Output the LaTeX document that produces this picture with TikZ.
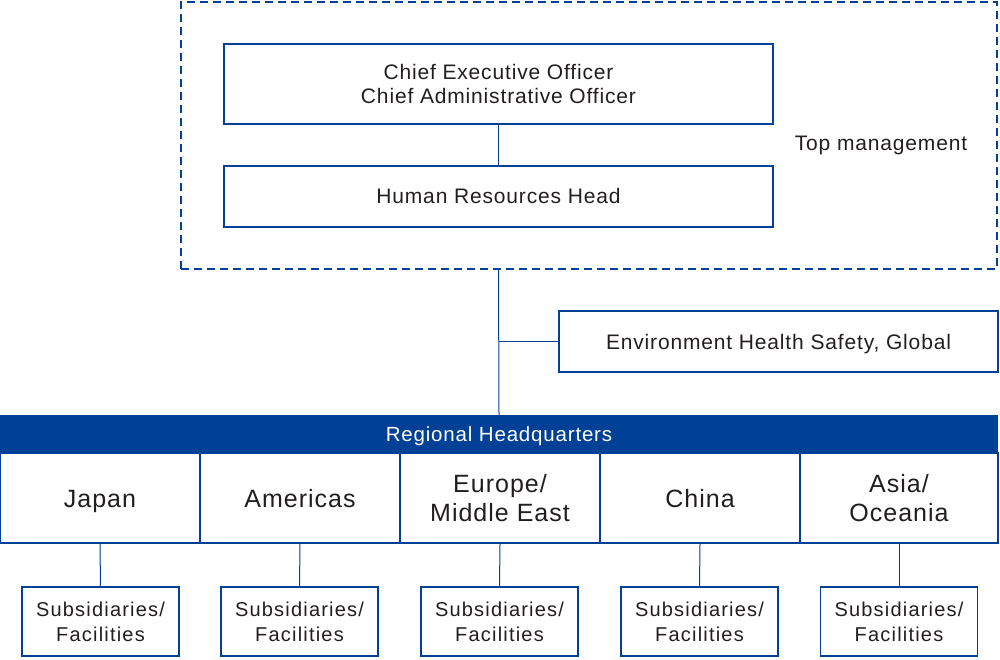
\documentclass[tikz,border=0pt]{standalone}
\usepackage{fontspec}
\setmainfont{Liberation Sans}
\definecolor{navy}{RGB}{0,64,150}
\definecolor{ink}{RGB}{35,30,30}
\begin{document}
\begin{tikzpicture}[x=1pt,y=-1pt,
  box/.style={draw=navy, line width=1.6pt, inner sep=0pt, align=center, text=ink,
    font=\fontsize{21}{24}\selectfont\addfontfeatures{LetterSpace=4}},
  one/.style={text height=#1, text depth=0pt},
  region/.style={box, minimum width=200pt, minimum height=90pt,
    font=\fontsize{25}{29}\selectfont\addfontfeatures{LetterSpace=4}},
  sub/.style={box, minimum width=157pt, minimum height=69pt,
    font=\fontsize{20}{25}\selectfont\addfontfeatures{LetterSpace=6}},
  conn/.style={draw=navy, line width=1pt}]
\useasboundingbox (0,0) rectangle (1000,660);
\node[draw=navy, line width=1.6pt, dash pattern=on 8pt off 5pt, minimum width=816pt, minimum height=267pt, inner sep=0pt] (top) at (589,135.5) {};
\node[box, minimum width=549pt, minimum height=80pt] (ceo) at (498.5,84) {Chief Executive Officer\\Chief Administrative Officer};
\node[box, one=15pt, minimum width=549pt, minimum height=61pt] (hr) at (498.5,196.5) {Human Resources Head};
\node[one=15pt, text=ink, font=\fontsize{21}{24}\selectfont\addfontfeatures{LetterSpace=4}] (tm) at (881,143) {Top management};
\node[box, one=15pt, minimum width=439pt, minimum height=61pt] (ehs) at (778.5,341.5) {Environment Health Safety, Global};
\node[fill=navy, one=14.7pt, minimum width=998pt, minimum height=38pt, inner sep=0pt, text=white,
  font=\fontsize{20.5}{24}\selectfont\addfontfeatures{LetterSpace=4}] (rhq) at (499,434) {Regional Headquarters};
\node[region, one=18pt] (jp) at (100,498) {Japan};
\node[region, one=18pt] (am) at (300,498) {Americas};
\node[region] (eu) at (500,498) {Europe/\\Middle East};
\node[region, one=18pt] (cn) at (700,498) {China};
\node[region, minimum width=198pt] (as) at (899,498) {Asia/\\Oceania};
\node[sub] (sjp) at (100.5,621.5) {Subsidiaries/\\Facilities};
\node[sub] (sam) at (299.5,621.5) {Subsidiaries/\\Facilities};
\node[sub] (seu) at (499.5,621.5) {Subsidiaries/\\Facilities};
\node[sub] (scn) at (699.5,621.5) {Subsidiaries/\\Facilities};
\node[sub] (sas) at (899,621.5) {Subsidiaries/\\Facilities};
\coordinate (j) at (hr.south |- top.south);
\draw[conn] (ceo.south) -- (hr.north);
\draw[conn] (j) -- (rhq.north);
\draw[conn] (ehs.west) -- (ehs.west -| j);
\foreach \a/\b in {jp/sjp, am/sam, eu/seu, cn/scn, as/sas}
  \draw[conn] (\a.south) -- (\b.north);
\end{tikzpicture}
\end{document}
